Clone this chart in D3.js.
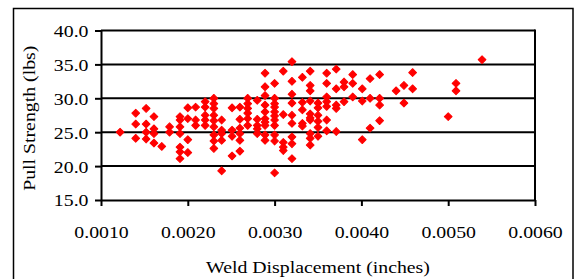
<!DOCTYPE html>
<html><head><meta charset="utf-8">
<script src="https://cdn.jsdelivr.net/npm/d3@7"></script>
<style>html,body{margin:0;padding:0;background:#fff;} svg{display:block;}</style>
</head><body>
<svg id="chart" width="576" height="279"></svg>
<script>
// ---- data ----
const displacement = [
  0.00122,
  0.00140,0.00140,0.00140,
  0.00152,0.00152,0.00152,0.00152,
  0.00161,0.00161,0.00161,0.00161,
  0.00170,
  0.00179,0.00179,
  0.00191,0.00191,0.00191,0.00191,0.00191,0.00191,0.00191,
  0.00200,0.00200,0.00200,0.00200,
  0.00209,0.00209,0.00209,
  0.00220,0.00220,0.00220,0.00220,0.00220,
  0.00230,0.00230,0.00230,0.00230,0.00230,0.00230,0.00230,0.00230,0.00230,
  0.00239,0.00239,0.00239,0.00239,0.00239,
  0.00251,0.00251,0.00251,0.00251,
  0.00260,0.00260,0.00260,0.00260,0.00260,0.00260,
  0.00269,0.00269,0.00269,0.00269,0.00269,0.00269,
  0.00280,0.00280,0.00280,0.00280,0.00280,
  0.00289,0.00289,0.00289,0.00289,0.00289,0.00289,0.00289,0.00289,0.00289,0.00289,
  0.00300,0.00300,0.00300,0.00300,0.00300,0.00300,0.00300,0.00300,0.00300,0.00300,0.00300,
  0.00310,0.00310,0.00310,0.00310,0.00310,
  0.00320,0.00320,0.00320,0.00320,0.00320,0.00320,0.00320,0.00320,0.00320,
  0.00332,0.00332,0.00332,0.00332,0.00332,
  0.00341,0.00341,0.00341,0.00341,0.00341,0.00341,0.00341,0.00341,0.00341,0.00341,
  0.00350,0.00350,0.00350,0.00350,0.00350,0.00350,
  0.00360,0.00360,0.00360,0.00360,0.00360,0.00360,0.00360,
  0.00371,0.00371,0.00371,0.00371,0.00371,
  0.00380,0.00380,0.00380,
  0.00390,0.00390,0.00390,
  0.00401,0.00401,0.00401,
  0.00410,0.00410,0.00410,
  0.00421,0.00421,0.00421,0.00421,
  0.00440,
  0.00449,0.00449,
  0.00459,0.00459,
  0.00500,
  0.00509,0.00509,
  0.00539
];
const pullStrength = [
  25.0,
  27.8,26.2,24.1,
  28.5,26.2,25.0,24.0,
  27.3,25.5,24.8,23.4,
  22.9,
  25.8,25.0,
  27.3,26.8,25.8,24.8,22.8,22.1,21.1,
  28.6,27.0,23.9,22.0,
  28.7,26.8,26.0,
  29.5,28.7,27.5,26.8,26.0,
  30.0,29.2,28.5,27.5,26.7,25.8,24.6,23.7,22.6,
  26.8,25.3,24.8,23.8,19.3,
  28.6,25.3,24.4,21.5,
  28.7,26.9,25.6,24.8,23.8,22.2,
  30.0,29.2,28.5,27.8,27.0,26.0,
  29.7,26.9,26.0,25.5,24.8,
  33.7,31.7,30.4,29.0,28.0,27.0,26.5,26.0,24.6,23.8,
  32.2,30.0,29.2,28.7,28.0,27.4,26.8,26.0,24.6,23.7,19.0,
  34.0,27.6,23.5,22.8,22.3,
  35.4,32.5,30.6,29.3,27.5,26.3,24.3,23.3,21.1,
  33.1,29.4,28.3,26.3,25.9,
  34.0,31.9,31.1,29.6,27.7,27.1,26.8,24.8,24.1,23.1,
  29.3,28.6,27.5,26.6,25.7,24.4,
  33.7,32.2,30.2,29.5,28.8,26.8,25.2,
  34.3,31.4,29.0,28.5,25.1,
  32.4,31.7,29.5,
  33.5,32.2,30.2,
  31.4,29.6,23.9,
  32.9,30.0,25.6,
  33.5,30.0,29.0,26.7,
  31.1,
  31.9,29.3,
  33.8,31.4,
  27.3,
  32.2,31.1,
  35.7
];
const xTicks = [0.0010, 0.0020, 0.0030, 0.0040, 0.0050, 0.0060];
const yTicks = [15, 20, 25, 30, 35, 40];
const xTitle = "Weld Displacement (inches)";
const yTitle = "Pull Strength (lbs)";

// ---- layout ----
const W = 576, H = 279;
const plot = {left: 101, right: 535, top: 30.5, bottom: 200};
const FONT = "'Liberation Serif','Times New Roman',serif";
const FS = 16.5, STRETCH = 1.2;

const svg = d3.select('#chart');
const x = d3.scaleLinear().domain([xTicks[0], xTicks[xTicks.length-1]]).range([plot.left, plot.right]);
const y = d3.scaleLinear().domain([yTicks[0], yTicks[yTicks.length-1]]).range([plot.bottom, plot.top]);

function stretch(sel){
  sel.each(function(){
    const L = this.getComputedTextLength();
    this.setAttribute('textLength', L*STRETCH);
    this.setAttribute('lengthAdjust', 'spacingAndGlyphs');
  });
}

// outer border
svg.append('rect').attr('x', 13.5).attr('y', 8.5).attr('width', 573 - 13.5).attr('height', 300)
  .attr('fill', 'none').attr('stroke', '#000').attr('stroke-width', 1.5);

// gridlines
svg.append('g').selectAll('line').data(yTicks.slice(1)).join('line')
  .attr('x1', plot.left).attr('x2', plot.right)
  .attr('y1', d => y(d)).attr('y2', d => y(d))
  .attr('stroke', '#000').attr('stroke-width', 2);
// right border of plot area
svg.append('line').attr('x1', plot.right).attr('x2', plot.right)
  .attr('y1', plot.top - 1).attr('y2', plot.bottom + 1)
  .attr('stroke', '#000').attr('stroke-width', 2);

// axes
const yAxis = svg.append('g').attr('transform', `translate(${plot.left},0)`)
  .call(d3.axisLeft(y).tickValues(yTicks).tickFormat(d3.format('.1f')).tickSize(6).tickSizeOuter(0).tickPadding(6.5));
const xAxis = svg.append('g').attr('transform', `translate(0,${plot.bottom})`)
  .call(d3.axisBottom(x).tickValues(xTicks).tickFormat(d3.format('.4f')).tickSize(6).tickSizeOuter(0).tickPadding(20.5));
[yAxis, xAxis].forEach(g => {
  g.select('.domain').attr('stroke', '#000').attr('stroke-width', 2);
  g.selectAll('.tick line').attr('stroke', '#000').attr('stroke-width', 2);
  g.selectAll('.tick text').attr('fill', '#000').style('font-family', FONT).style('font-size', FS + 'px');
});
yAxis.selectAll('.tick text').attr('dy', '0.36em');
stretch(yAxis.selectAll('.tick text'));
stretch(xAxis.selectAll('.tick text'));

// points
const pts = displacement.map((d, i) => ({x: d, y: pullStrength[i]}));
svg.append('g').selectAll('path').data(pts).join('path')
  .attr('d', d3.symbol(d3.symbolSquare, 30))
  .attr('transform', d => `translate(${x(d.x)},${y(d.y)}) rotate(45)`)
  .attr('fill', '#ff0000').attr('stroke', '#ff0000').attr('stroke-width', 1).attr('stroke-linejoin', 'round');

// titles
const xt = svg.append('text').attr('x', (plot.left + plot.right) / 2).attr('y', 273)
  .attr('text-anchor', 'middle').style('font-family', FONT).style('font-size', FS + 'px').text(xTitle);
stretch(xt);
const yt = svg.append('text').attr('transform', `translate(35,${(plot.top + plot.bottom) / 2 + 3}) rotate(-90)`)
  .attr('text-anchor', 'middle').style('font-family', FONT).style('font-size', FS + 'px').text(yTitle);
stretch(yt);
</script>
</body></html>
